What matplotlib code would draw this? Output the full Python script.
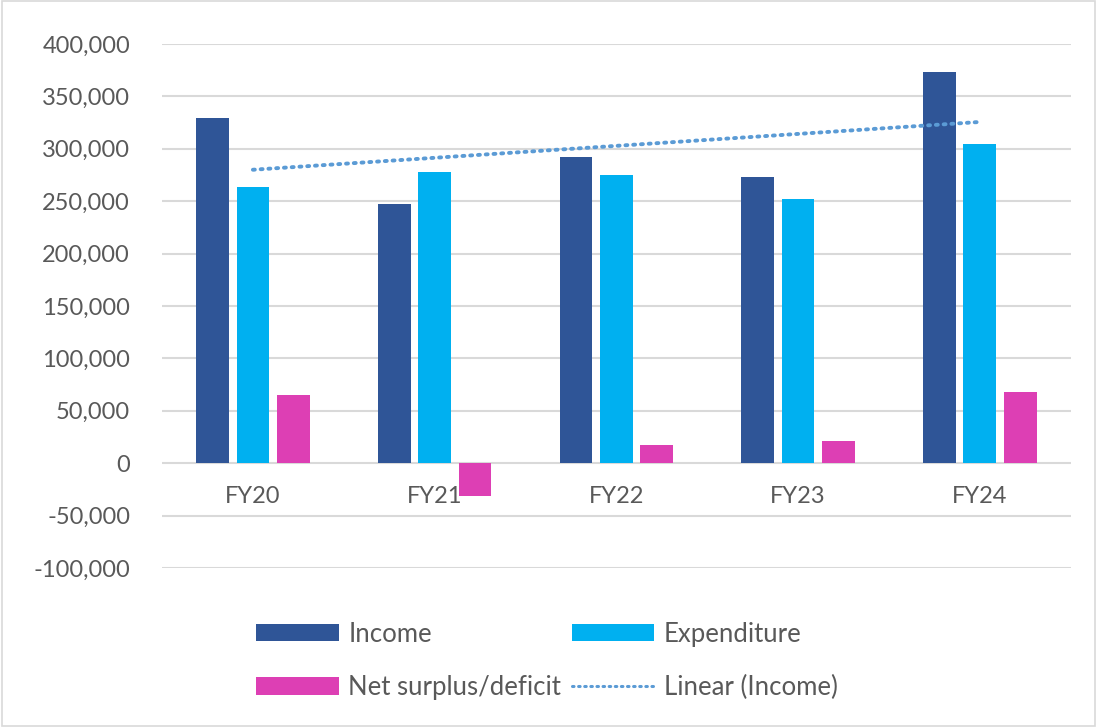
import numpy as np
import matplotlib
matplotlib.use("Agg")
import matplotlib.pyplot as plt
from matplotlib.ticker import FuncFormatter

plt.rcParams['font.family'] = ['Lato', 'DejaVu Sans']

years = ["FY20", "FY21", "FY22", "FY23", "FY24"]
income = [329000, 247000, 292000, 273000, 373000]
expenditure = [264000, 278000, 275000, 252000, 305000]
net = [65000, -31000, 17000, 21000, 68000]

TXT = "#595959"
FS = 17

fig = plt.figure(figsize=(10.97, 7.27), dpi=100)
ax = fig.add_axes([0.1477, 0.2187, 0.8283, 0.7208])

x = np.arange(len(years))
w = 0.18
off = 0.222
b1 = ax.bar(x - off, income, w, color="#2f5597", zorder=2)
b2 = ax.bar(x, expenditure, w, color="#00b0f0", zorder=2)
b3 = ax.bar(x + off, net, w, color="#dd3fb4", zorder=2)

# linear trend of income
k, c = np.polyfit(x, income, 1)
tl, = ax.plot(x, k * x + c, color="#5b9bd5", lw=2.8, linestyle=(0, (0.5, 1.5)),
              dash_capstyle="round", zorder=3)

ax.set_xlim(-0.5, len(years) - 0.5)
ax.set_ylim(-100000, 400000)
ax.set_yticks(np.arange(-100000, 400001, 50000))
ax.yaxis.set_major_formatter(FuncFormatter(lambda v, p: f"{int(v):,}"))
ax.grid(axis="y", color="#d9d9d9", lw=1.5, zorder=0)
ax.set_axisbelow(True)
for s in ax.spines.values():
    s.set_visible(False)
ax.tick_params(axis="y", length=0, pad=23, labelsize=FS, labelcolor=TXT)
ax.set_xticks([])

for i, lab in enumerate(years):
    ax.text(i, -32000, lab, ha="center", va="center", fontsize=FS, color=TXT, zorder=4)

# legend filled column-first: Income, Net | Expenditure, Linear
leg_h = [b1, b3, b2, tl]
leg_l = ["Income", "Net surplus/deficit", "Expenditure", "Linear (Income)"]
leg = fig.legend(leg_h, leg_l, ncol=2, loc="center", bbox_to_anchor=(0.4987, 0.0908),
                 frameon=False, fontsize=18.5, labelcolor=TXT, handlelength=3.2,
                 handleheight=0.66, handletextpad=0.38, columnspacing=0.42,
                 labelspacing=1.1)
leg.get_lines()[0].set_linewidth(2.2)

fig.patches.append(plt.Rectangle((0.002, 0.002), 0.996, 0.996, transform=fig.transFigure,
                                 fill=False, edgecolor="#d9d9d9", lw=1.2))

fig.savefig("out.png", dpi=100)
